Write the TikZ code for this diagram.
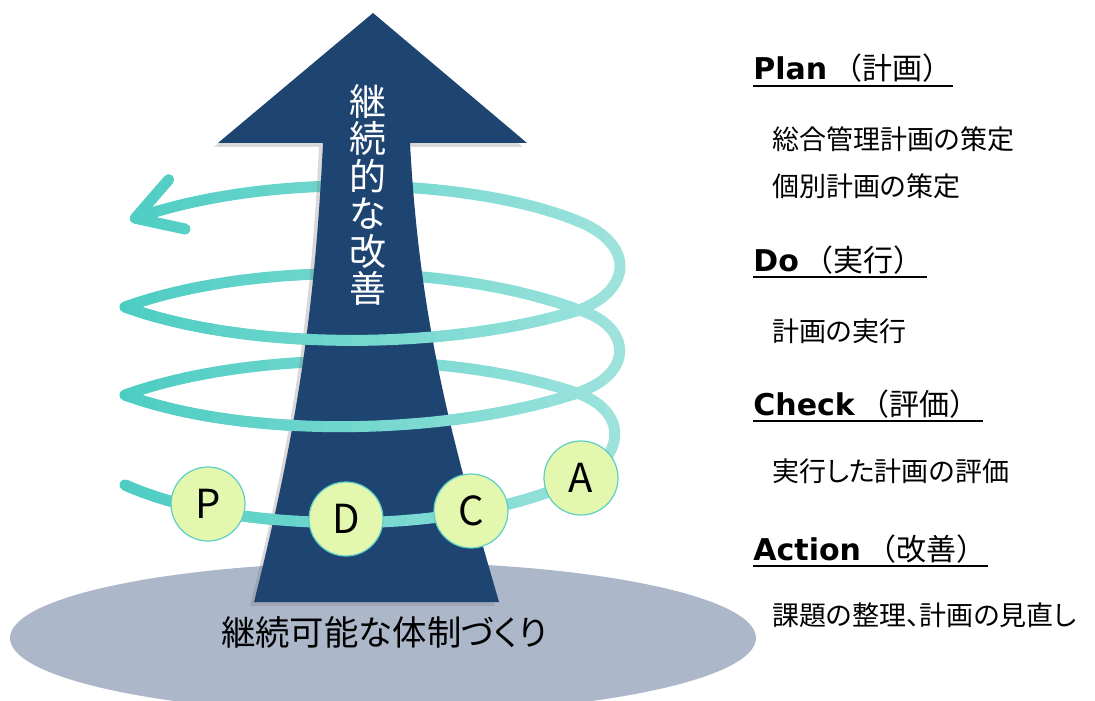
\documentclass[tikz,border=0pt]{standalone}
\usepackage{fontspec}
\setmainfont{Noto Sans CJK JP}
\newfontfamily\propfont{Noto Sans CJK JP}[RawFeature=+palt]
\newfontfamily\headfont{DejaVu Sans}
\usetikzlibrary{arrows.meta,shapes.geometric,shadows}

\definecolor{arrowblue}{HTML}{1E4471}
\definecolor{basegray}{HTML}{ACB7CA}
\definecolor{spiralL}{HTML}{4CCDC2}
\definecolor{spiralR}{HTML}{A2E4DE}
\definecolor{pdcafill}{HTML}{E3F8AE}
\definecolor{pdcaline}{HTML}{5BCFC5}

% whole spiral, and the parts that pass in front of the arrow
\newcommand\spiralpath{(125,485) .. controls (200,518) and (300,525) .. (380,522)
  .. controls (470,518) and (550,498) .. (590,472)
  .. controls (625,450) and (625,410) .. (577,393)
  .. controls (450,350) and (250,350) .. (125,395)
  .. controls (250,440) and (450,435) .. (577,393)
  .. controls (637,373) and (630,325) .. (579,310)
  .. controls (450,262) and (250,262) .. (125,307)
  .. controls (250,352) and (450,350) .. (579,310)
  .. controls (632,290) and (635,245) .. (580,222)
  .. controls (480,180) and (280,170) .. (130,220)}
\newcommand\spiralfront{(125,485) .. controls (200,518) and (300,525) .. (380,522)
  .. controls (470,518) and (550,498) .. (590,472)
  (125,395) .. controls (250,440) and (450,435) .. (577,393)
  (125,307) .. controls (250,352) and (450,350) .. (579,310)}
\newcommand\gradspiral[2]{%
  \foreach \i in {0,...,19}{%
    \pgfmathsetmacro\xa{100+28*\i}%
    \pgfmathtruncatemacro\pc{100*\i/19}%
    \begin{scope}
      \clip (\xa-0.5,0) rectangle (\xa+28.5,700);
      \draw[spiral,#1,color=spiralR!\pc!spiralL] #2;
    \end{scope}}}

\begin{document}
\begin{tikzpicture}[x=0.5pt, y=-0.5pt,
    spiral/.style={line width=5.5pt, line cap=round, line join=round},
    pdca/.style={circle, draw=pdcaline, line width=.6pt, fill=pdcafill,
      minimum size=37pt, inner sep=0, font=\fontsize{20}{20}\selectfont},
    head/.style={anchor=base west, inner sep=0, font=\fontsize{15}{18}\selectfont},
    body/.style={anchor=west, inner sep=0, font=\propfont\fontsize{13.5}{16}\selectfont},
    uline/.style={line width=1pt}]
    \useasboundingbox (0,0) rectangle (1095,700);

    % base
    \node[ellipse, fill=basegray, minimum width=373pt, minimum height=76pt] (base) at (383,638) {};
    \node[font=\propfont\fontsize{17.2}{18}\selectfont] (taisei) at (384,632) {継続可能な体制づくり};

    % spiral behind the arrow
    \gradspiral{-{Straight Barb[length=22pt,width=26pt,round]}}{\spiralpath}

    % arrow
    \fill[arrowblue, drop shadow={shadow xshift=-2pt, shadow yshift=-2pt, opacity=.3}]
      (373,13) -- (527,143) -- (410,143) .. controls (420,330) and (455,450) .. (499,602)
      -- (254,602) .. controls (292,450) and (314,330) .. (323,143) -- (218,143) -- cycle;
    \node[align=center, text=white, font=\fontsize{18.5}{18.75}\selectfont] (kaizen) at (368,195)
      {継\\続\\的\\な\\改\\善};

    % spiral in front of the arrow
    \gradspiral{}{\spiralfront}

    % PDCA
    \node[pdca] (p) at (208,504) {P};
    \node[pdca] (d) at (346,519) {D};
    \node[pdca] (c) at (471,511) {C};
    \node[pdca] (a) at (581,478) {A};

    % right column
    \node[head] (hplan) at (753,80) {{\headfont\bfseries Plan}\,（計画）};
    \draw[uline] ([yshift=-3pt]hplan.base west) -- ++(200,0);
    \node[body] (plan1) at (772,139) {総合管理計画の策定};
    \node[body] (plan2) at (772,186) {個別計画の策定};

    \node[head] (hdo) at (753,271) {{\headfont\bfseries Do}\,（実行）};
    \draw[uline] ([yshift=-3pt]hdo.base west) -- ++(174,0);
    \node[body] (do1) at (772,331) {計画の実行};

    \node[head] (hcheck) at (753,415) {{\headfont\bfseries Check}\,（評価）};
    \draw[uline] ([yshift=-3pt]hcheck.base west) -- ++(230,0);
    \node[body] (check1) at (772,471) {実行した計画の評価};

    \node[head] (haction) at (753,560) {{\headfont\bfseries Action}\,（改善）};
    \draw[uline] ([yshift=-3pt]haction.base west) -- ++(235,0);
    \node[body] (act1) at (772,615) {課題の整理、計画の見直し};
\end{tikzpicture}
\end{document}
